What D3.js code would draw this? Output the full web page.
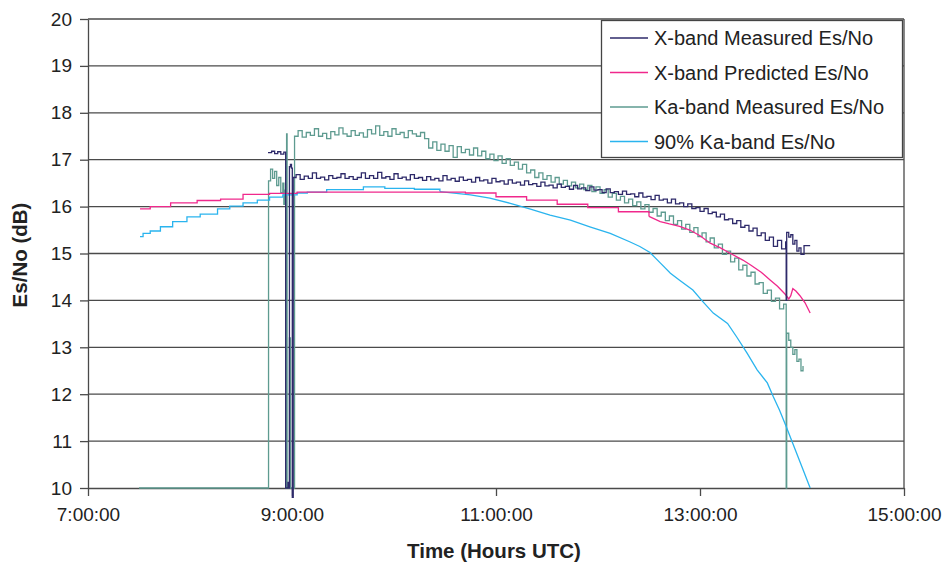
<!DOCTYPE html>
<html><head><meta charset="utf-8">
<script src="https://cdn.jsdelivr.net/npm/d3@7"></script>
<style>body{margin:0;background:#fff;} svg{display:block;font-family:"Liberation Sans",Arial,sans-serif;}</style>
</head><body>
<svg id="c" width="943" height="567"></svg>
<script>
// ---- data (time in decimal hours UTC, value in dB) ----
const seriesNames = ["X-band Measured Es/No","X-band Predicted Es/No","Ka-band Measured Es/No","90% Ka-band Es/No"];
const xTickHours = [7,9,11,13,15];
const xTickLabels = ["7:00:00","9:00:00","11:00:00","13:00:00","15:00:00"];
const yTicks = [10,11,12,13,14,15,16,17,18,19,20];

const xmT = [8.765,8.80,8.83,8.86,8.89,8.92,8.938,8.96,8.965,8.975,8.985,8.995,9.003,9.012,
9.04,9.08,9.12,9.16,9.20,9.24,9.28,9.32,9.36,9.40,9.44,9.48,9.52,9.56,9.60,9.64,9.68,9.72,9.76,9.80,9.84,9.88,9.92,9.96,
10.00,10.04,10.08,10.12,10.16,10.20,10.24,10.28,10.32,10.36,10.40,10.44,10.48,10.52,10.56,10.60,10.64,10.68,10.72,10.76,10.80,10.84,10.88,10.92,10.96,
11.00,11.04,11.08,11.12,11.16,11.20,11.24,11.28,11.32,11.36,11.40,11.44,11.48,11.52,11.56,11.60,11.64,11.68,11.72,11.76,11.80,11.84,11.88,11.92,11.96,
12.00,12.04,12.08,12.12,12.16,12.20,12.24,12.28,12.32,12.36,12.40,12.44,12.48,12.52,12.56,12.60,12.64,12.68,12.72,12.76,12.80,12.84,12.88,12.92,12.96,
13.00,13.04,13.08,13.12,13.16,13.20,13.24,13.28,13.32,13.36,13.40,13.44,13.48,13.52,13.56,13.60,13.64,13.68,13.72,13.76,13.80,13.84,13.845,13.85,13.87,13.89,13.91,13.93,13.95,13.97,13.99,14.02,14.08];
const xmV = [17.15,17.18,17.13,17.17,17.12,17.16,10.0,10.12,10.0,16.85,16.90,16.82,9.8,16.62,
16.68,16.58,16.65,16.60,16.72,16.60,16.63,16.57,16.66,16.60,16.62,16.70,16.60,16.64,16.58,16.62,16.72,16.60,16.66,16.60,16.73,16.61,16.64,16.58,
16.70,16.60,16.63,16.57,16.68,16.60,16.62,16.56,16.64,16.57,16.60,16.55,16.66,16.57,16.60,16.54,16.63,16.56,16.58,16.52,16.62,16.55,16.57,16.50,16.60,
16.53,16.55,16.48,16.57,16.50,16.52,16.46,16.55,16.47,16.49,16.43,16.52,16.44,16.46,16.40,16.48,16.41,16.43,16.37,16.45,16.38,16.40,16.34,16.42,16.35,
16.36,16.30,16.38,16.30,16.32,16.26,16.33,16.26,16.27,16.21,16.29,16.20,16.22,16.15,16.24,16.14,16.16,16.08,16.16,16.06,16.08,16.00,16.06,15.96,15.98,
15.90,15.96,15.85,15.88,15.78,15.84,15.72,15.74,15.64,15.70,15.56,15.60,15.48,15.54,15.38,15.44,15.28,15.35,15.15,15.28,15.10,15.25,14.00,15.45,15.35,15.40,15.20,15.28,15.05,15.12,14.98,15.17,15.17];

const xpT = [7.51,7.61,7.81,8.07,8.30,8.52,8.78,9.05,10.70,11.00,11.30,11.60,11.90,12.20,12.50,12.61,12.70,12.80,12.90,13.00,13.10,13.20,13.30,13.42,13.50,13.60,13.69,13.76,13.84,13.87,13.89,13.91,13.94,13.98,14.03,14.08];
const xpV = [15.95,16.00,16.08,16.13,16.16,16.26,16.28,16.31,16.29,16.21,16.14,16.05,15.98,15.89,15.79,15.68,15.63,15.58,15.50,15.38,15.22,15.12,15.00,14.86,14.75,14.60,14.43,14.30,14.12,14.03,14.10,14.25,14.20,14.10,13.95,13.73];

const kaT = [7.50,8.77,8.79,8.81,8.83,8.85,8.87,8.89,8.91,8.92,8.93,8.94,8.947,8.952,8.975,8.985,9.025,
9.06,9.10,9.14,9.18,9.22,9.26,9.30,9.34,9.38,9.42,9.46,9.50,9.54,9.58,9.62,9.66,9.70,9.74,9.78,9.82,9.86,9.90,9.94,9.98,
10.02,10.06,10.10,10.14,10.18,10.22,10.26,10.30,10.34,10.38,10.42,10.46,10.50,10.54,10.58,10.62,10.66,10.70,10.74,10.78,10.82,10.86,10.90,10.94,10.98,
11.02,11.06,11.10,11.14,11.18,11.22,11.26,11.30,11.34,11.38,11.42,11.46,11.50,11.54,11.58,11.62,11.66,11.70,11.74,11.78,11.82,11.86,11.90,11.94,11.98,
12.02,12.06,12.10,12.14,12.18,12.22,12.26,12.30,12.34,12.38,12.42,12.46,12.50,12.54,12.58,12.62,12.66,12.70,12.74,12.78,12.82,12.86,12.90,12.94,12.98,
13.02,13.06,13.10,13.14,13.18,13.22,13.26,13.30,13.34,13.38,13.42,13.46,13.50,13.54,13.58,13.62,13.66,13.70,13.74,13.78,13.82,13.845,13.85,13.87,13.89,13.91,13.93,13.95,13.97,13.99,14.01];
const kaV = [10.0,16.55,16.80,16.60,16.75,16.45,16.62,16.30,16.50,16.05,16.35,10.0,17.55,10.0,13.2,10.0,17.50,
17.62,17.48,17.58,17.52,17.66,17.50,17.56,17.45,17.60,17.53,17.68,17.55,17.50,17.62,17.52,17.57,17.48,17.64,17.55,17.72,17.52,17.60,17.50,17.66,
17.54,17.58,17.47,17.62,17.55,17.50,17.58,17.45,17.25,17.38,17.20,17.33,17.18,17.30,17.05,17.28,17.15,17.22,17.10,17.25,17.08,17.18,17.02,17.12,16.98,
17.08,16.92,17.02,16.88,16.95,16.80,16.90,16.72,16.78,16.62,16.72,16.58,16.66,16.52,16.62,16.48,16.56,16.44,16.52,16.40,16.48,16.36,16.45,16.32,16.42,
16.28,16.36,16.20,16.28,16.14,16.22,16.08,16.16,16.02,16.10,15.95,16.04,15.88,15.96,15.80,15.88,15.70,15.80,15.62,15.70,15.52,15.62,15.45,15.55,15.36,
15.44,15.25,15.33,15.12,15.20,14.98,15.05,14.82,14.90,14.65,14.75,14.52,14.60,14.35,14.38,14.15,14.22,13.98,14.05,13.82,13.92,10.0,13.30,13.15,13.00,12.85,12.95,12.70,12.75,12.50,12.60];

const k90T = [7.51,7.54,7.61,7.71,7.83,7.97,8.10,8.27,8.39,8.52,8.66,8.78,8.91,9.05,9.15,9.34,9.70,9.91,10.20,10.45,10.75,10.94,11.14,11.33,11.53,11.73,11.92,12.12,12.31,12.41,12.51,12.61,12.71,12.80,12.93,13.03,13.13,13.27,13.36,13.46,13.56,13.66,13.72,13.78,13.84,13.91,14.00,14.08];
const k90V = [15.36,15.43,15.48,15.57,15.68,15.78,15.84,15.95,16.01,16.08,16.14,16.20,16.25,16.29,16.31,16.36,16.42,16.39,16.37,16.32,16.25,16.18,16.07,15.95,15.82,15.71,15.57,15.43,15.25,15.15,15.02,14.80,14.58,14.43,14.22,13.97,13.73,13.51,13.22,12.88,12.52,12.24,11.94,11.66,11.34,10.95,10.45,10.0];

const colors = ["#2e2a6a","#f0288c","#5e9b90","#2ab4ee"];

// ---- chart ----
const svg = d3.select("#c");
const x = d3.scaleLinear().domain([7,15]).range([88,904]);
const y = d3.scaleLinear().domain([10,20]).range([488,19]);
const font = "'Liberation Sans',Arial,sans-serif";

// gridlines
svg.append("g").selectAll("line").data(yTicks.filter(v=>v>10)).join("line")
  .attr("x1",x(7)).attr("x2",x(15)).attr("y1",d=>y(d)).attr("y2",d=>y(d))
  .attr("stroke","#4a4a4a").attr("stroke-width",1.3);
// right border
svg.append("line").attr("x1",x(15)).attr("x2",x(15)).attr("y1",y(20)).attr("y2",y(10))
  .attr("stroke","#4a4a4a").attr("stroke-width",1.3);

// axes
const xa = svg.append("g").attr("transform",`translate(0,${y(10)})`)
  .call(d3.axisBottom(x).tickValues(xTickHours).tickFormat((d,i)=>xTickLabels[i]).tickSize(8).tickPadding(12).tickSizeOuter(0));
const ya = svg.append("g").attr("transform",`translate(${x(7)},0)`)
  .call(d3.axisLeft(y).tickValues(yTicks).tickFormat(d3.format("d")).tickSize(8).tickPadding(8).tickSizeOuter(0));
[xa,ya].forEach(g=>{
  g.selectAll("path,line").attr("stroke","#4a4a4a").attr("stroke-width",1.3);
  g.selectAll("text").attr("font-size",19).attr("fill","#222").attr("font-family",font);
});

// series
const mk = (T,V)=>T.map((t,i)=>[t,V[i]]);
const line = c => d3.line().x(d=>x(d[0])).y(d=>y(d[1])).curve(c);
function draw(pts, color, splitAt){
  // stepped part up to splitAt, smooth (linear) part after
  const a = pts.filter(d=>d[0]<=splitAt), b = pts.filter(d=>d[0]>=splitAt);
  if (a.length>1) svg.append("path").attr("d", line(d3.curveStepAfter)(a))
      .attr("fill","none").attr("stroke",color).attr("stroke-width",1.3);
  if (b.length>1) svg.append("path").attr("d", line(d3.curveLinear)(b))
      .attr("fill","none").attr("stroke",color).attr("stroke-width",1.3);
}
draw(mk(kaT,kaV), colors[2], 99);
draw(mk(k90T,k90V), colors[3], 10.45);
draw(mk(xpT,xpV), colors[1], 12.50);
draw(mk(xmT,xmV), colors[0], 99);

// axis titles
svg.append("text").attr("x",494).attr("y",558).attr("text-anchor","middle")
  .attr("font-size",20.5).attr("font-weight","bold").attr("fill","#222").text("Time (Hours UTC)");
svg.append("text").attr("transform","translate(27,255) rotate(-90)").attr("text-anchor","middle")
  .attr("font-size",20.5).attr("font-weight","bold").attr("fill","#222").text("Es/No (dB)");

// legend
const lg = svg.append("g");
lg.append("rect").attr("x",601.5).attr("y",20.5).attr("width",301).attr("height",137)
  .attr("fill","#fff").attr("stroke","#444").attr("stroke-width",1.3);
[0,1,2,3].forEach((k,i)=>{
  const yy = 38 + i*34.5;
  lg.append("line").attr("x1",610).attr("x2",648).attr("y1",yy).attr("y2",yy)
    .attr("stroke",colors[k]).attr("stroke-width",1.5);
  lg.append("text").attr("x",654).attr("y",yy).attr("dy","0.36em")
    .attr("font-size",20).attr("fill","#222").text(seriesNames[k]);
});
</script>
</body></html>
